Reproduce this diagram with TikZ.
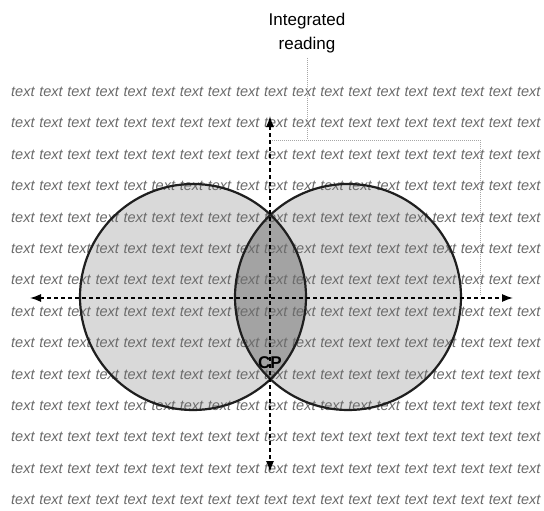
\documentclass[tikz,border=0pt]{standalone}
\usepackage{fontspec}
\setmainfont{Liberation Sans}
\usetikzlibrary{arrows.meta}
\definecolor{circfill}{gray}{0.85}
\definecolor{lensfill}{gray}{0.64}
\definecolor{bgtext}{gray}{0.42}
\definecolor{outline}{gray}{0.12}
\tikzset{
  bgword/.style={inner sep=0pt, anchor=west, text=bgtext, font=\fontsize{14.5}{16}\selectfont\itshape},
  circline/.style={draw=outline, line width=2.2pt},
  axis/.style={draw=black, line width=1.3pt, dash pattern=on 4pt off 3pt, {Latex[length=11pt,width=8pt]}-{Latex[length=11pt,width=8pt]}},
  bracket/.style={draw=gray!70, line width=0.9pt, dash pattern=on 1pt off 1pt},
  label/.style={inner sep=0pt, align=center, font=\fontsize{17}{24}\selectfont},
  cplabel/.style={inner sep=0pt, font=\fontsize{17}{20}\selectfont\bfseries}
}
\begin{document}
\begin{tikzpicture}[x=1pt,y=-1pt]
\useasboundingbox (0,0) rectangle (544,511);
\fill[white] (0,0) rectangle (544,511);
% circle fills
\coordinate (cl) at (193,297);
\coordinate (cr) at (348,297);
\fill[circfill] (cl) circle[radius=113];
\fill[circfill] (cr) circle[radius=113];
\begin{scope}
  \clip (cl) circle[radius=113];
  \fill[lensfill] (cr) circle[radius=113];
\end{scope}
% background text
\foreach \r in {0,...,13} {
  \foreach \c in {0,...,18} {
    \node[bgword] (w-\r-\c) at ({11+\c*28.1},{92+\r*31.38}) {text};
  }
}
% circle outlines
\draw[circline] (cl) circle[radius=113];
\draw[circline] (cr) circle[radius=113];
% axes
\coordinate (axl) at (30,298);
\coordinate (axr) at (513,298);
\coordinate (axt) at (270,116);
\coordinate (axb) at (270,472);
\draw[axis] (axl) -- (axr);
\draw[axis] (axt) -- (axb);
% label and bracket
\node[label] (ir) at (307,33) {Integrated\\reading};
\coordinate (b0) at (307,58);
\coordinate (b1) at (307,140);
\coordinate (b2) at (272,140);
\coordinate (b3) at (480,140);
\coordinate (b4) at (480,296);
\draw[bracket] (b0) -- (b1);
\draw[bracket] (b2) -- (b3) -- (b4);
% CP
\node[cplabel] (cp) at (270,363) {CP};
\end{tikzpicture}
\end{document}
